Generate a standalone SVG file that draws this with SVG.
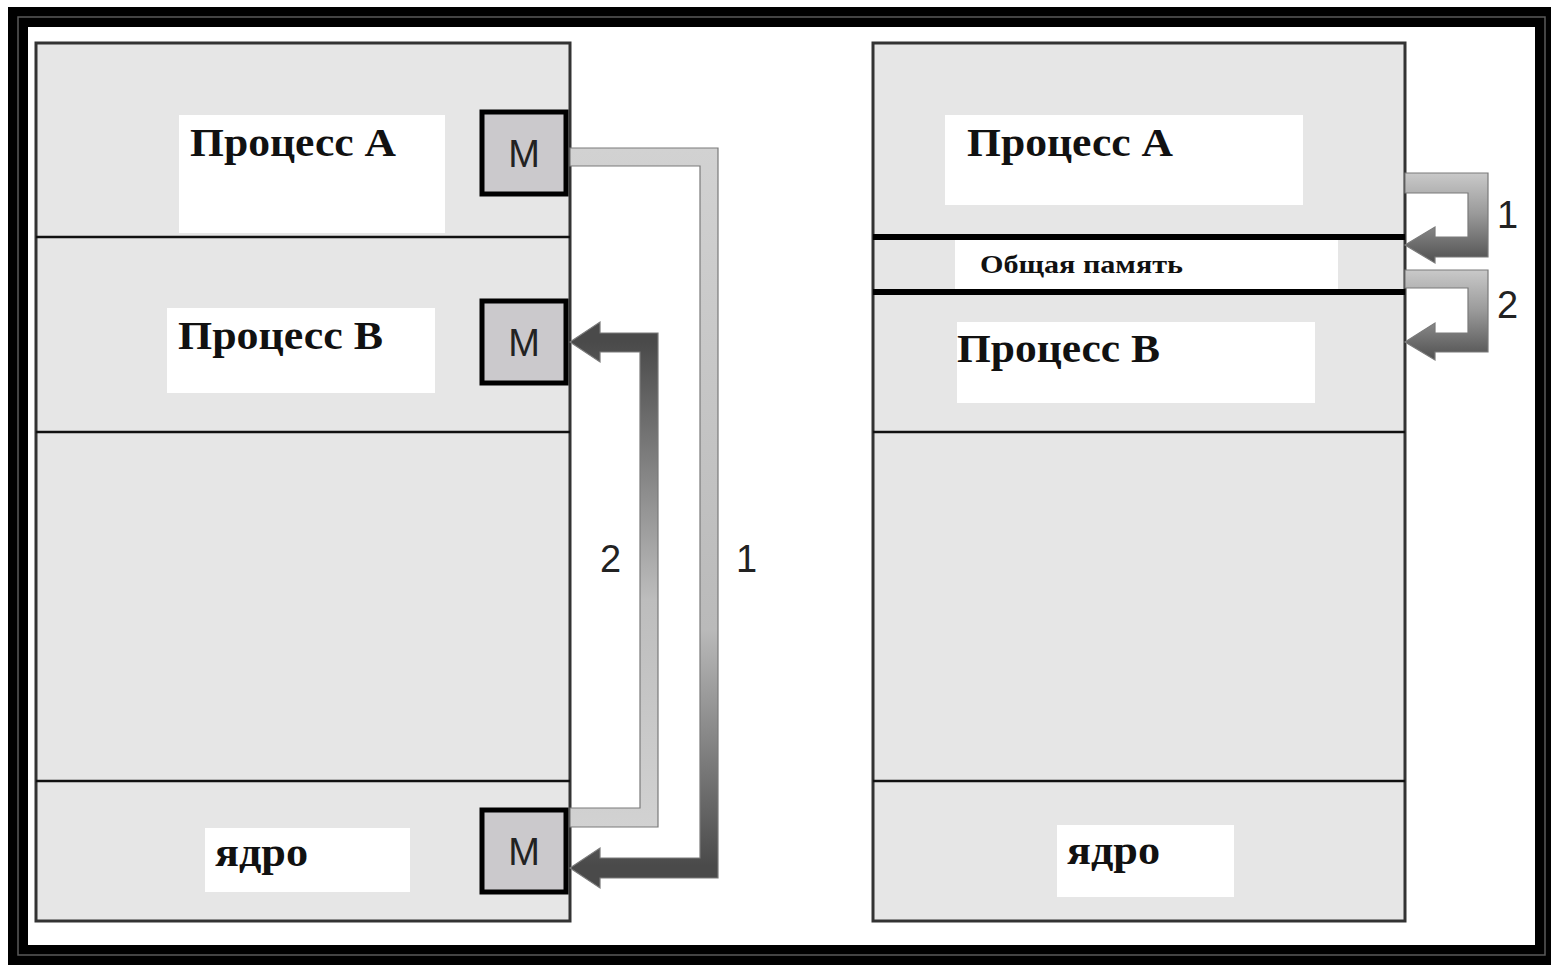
<svg xmlns="http://www.w3.org/2000/svg" width="1551" height="966" viewBox="0 0 1551 966">
  <style>
    .panel { fill: #e6e6e6; stroke: #333; stroke-width: 3; }
    .div { stroke: #111; stroke-width: 2.5; }
    .thick { stroke: #000; stroke-width: 6; }
    .lbl { fill: #ffffff; }
    .proc { font-family: "Liberation Serif", "Times New Roman", serif; font-weight: bold; fill: #111; }
    .mbox { fill: #cbc9cc; stroke: #000; stroke-width: 5; }
    .mtxt { font-family: "Liberation Sans", Arial, sans-serif; font-size: 38px; fill: #222; text-anchor: middle; }
    .num { font-family: "Liberation Sans", Arial, sans-serif; font-size: 38px; fill: #222; }
    .arrow { stroke: #7a7a7a; stroke-width: 1.2; stroke-linejoin: miter; }
  </style>
  <defs>
    <linearGradient id="gDown1" gradientUnits="userSpaceOnUse" x1="0" y1="148" x2="0" y2="888">
      <stop offset="0" stop-color="#d2d2d2"/>
      <stop offset="0.65" stop-color="#bababa"/>
      <stop offset="0.97" stop-color="#4a4a4a"/>
    </linearGradient>
    <linearGradient id="gUp2" gradientUnits="userSpaceOnUse" x1="0" y1="322" x2="0" y2="827">
      <stop offset="0.04" stop-color="#4a4a4a"/>
      <stop offset="0.55" stop-color="#bdbdbd"/>
      <stop offset="1" stop-color="#d2d2d2"/>
    </linearGradient>
    <linearGradient id="gSmall" x1="0" y1="0" x2="0" y2="1">
      <stop offset="0" stop-color="#c9c9c9"/>
      <stop offset="0.45" stop-color="#9a9a9a"/>
      <stop offset="1" stop-color="#505050"/>
    </linearGradient>
  </defs>

  <!-- outer frame -->
  <rect x="0" y="0" width="1551" height="966" fill="#ffffff"/>
  <rect x="18" y="17" width="1527" height="938" fill="#ffffff" stroke="#000" stroke-width="20"/>
  <rect x="18" y="17" width="1527" height="938" fill="none" stroke="#5a5a5a" stroke-width="1.5"/>

  <!-- left: message passing through the kernel -->
  <g id="left-memory">
    <rect class="panel" x="36" y="43" width="534" height="878"/>
    <line class="div" x1="36" y1="237" x2="570" y2="237"/>
    <line class="div" x1="36" y1="432" x2="570" y2="432"/>
    <line class="div" x1="36" y1="781" x2="570" y2="781"/>
  </g>
  <g id="left-proc-a">
    <rect class="lbl" x="179" y="115" width="266" height="118"/>
    <text class="proc" x="190" y="156" font-size="40" textLength="206" lengthAdjust="spacingAndGlyphs">Процесс А</text>
  </g>
  <g id="left-proc-b">
    <rect class="lbl" x="167" y="308" width="268" height="85"/>
    <text class="proc" x="178" y="349" font-size="40" textLength="205" lengthAdjust="spacingAndGlyphs">Процесс В</text>
  </g>
  <g id="left-kernel">
    <rect class="lbl" x="205" y="828" width="205" height="64"/>
    <text class="proc" x="215" y="866" font-size="40" textLength="93" lengthAdjust="spacingAndGlyphs">ядро</text>
  </g>
  <g id="m-a">
    <rect class="mbox" x="482" y="112" width="84" height="82"/>
    <text class="mtxt" x="524" y="167">M</text>
  </g>
  <g id="m-b">
    <rect class="mbox" x="482" y="301" width="84" height="82"/>
    <text class="mtxt" x="524" y="356">M</text>
  </g>
  <g id="m-kernel">
    <rect class="mbox" x="482" y="810" width="84" height="82"/>
    <text class="mtxt" x="524" y="865">M</text>
  </g>

  <!-- right: shared memory -->
  <g id="right-memory">
    <rect class="panel" x="873" y="43" width="532" height="878"/>
    <line class="div" x1="873" y1="432" x2="1405" y2="432"/>
    <line class="div" x1="873" y1="781" x2="1405" y2="781"/>
  </g>
  <g id="right-proc-a">
    <rect class="lbl" x="945" y="115" width="358" height="90"/>
    <text class="proc" x="967" y="156" font-size="40" textLength="206" lengthAdjust="spacingAndGlyphs">Процесс А</text>
  </g>
  <g id="shared">
    <rect class="lbl" x="955" y="240" width="383" height="50"/>
    <line class="thick" x1="873" y1="237" x2="1405" y2="237"/>
    <line class="thick" x1="873" y1="292" x2="1405" y2="292"/>
    <text class="proc" x="980" y="273" font-size="26" textLength="203" lengthAdjust="spacingAndGlyphs">Общая память</text>
  </g>
  <g id="right-proc-b">
    <rect class="lbl" x="957" y="322" width="358" height="81"/>
    <text class="proc" x="957" y="362" font-size="40" textLength="203" lengthAdjust="spacingAndGlyphs">Процесс В</text>
  </g>
  <g id="right-kernel">
    <rect class="lbl" x="1057" y="825" width="177" height="72"/>
    <text class="proc" x="1067" y="864" font-size="40" textLength="93" lengthAdjust="spacingAndGlyphs">ядро</text>
  </g>

  <!-- connectors -->
  <g id="connectors">
    <path class="arrow" fill="url(#gDown1)" d="M570,148 H718 V878 H600 V888 L570,868 L600,848 V858 H700 V166 H570 Z"/>
    <path class="arrow" fill="url(#gUp2)" d="M570,808 H640 V352 H600 V362 L570,342 L600,322 V333 H658 V827 H570 Z"/>
    <path class="arrow" fill="url(#gSmall)" d="M1405,173 H1488 V257 H1435 V263 L1405,245 L1435,227 V237 H1468 V193 H1405 Z"/>
    <path class="arrow" fill="url(#gSmall)" d="M1405,270 H1488 V352 H1435 V360 L1405,342 L1435,323 V333 H1468 V288 H1405 Z"/>
    <text class="num" x="600" y="572">2</text>
    <text class="num" x="736" y="572">1</text>
    <text class="num" x="1497" y="228">1</text>
    <text class="num" x="1497" y="318">2</text>
  </g>
</svg>
